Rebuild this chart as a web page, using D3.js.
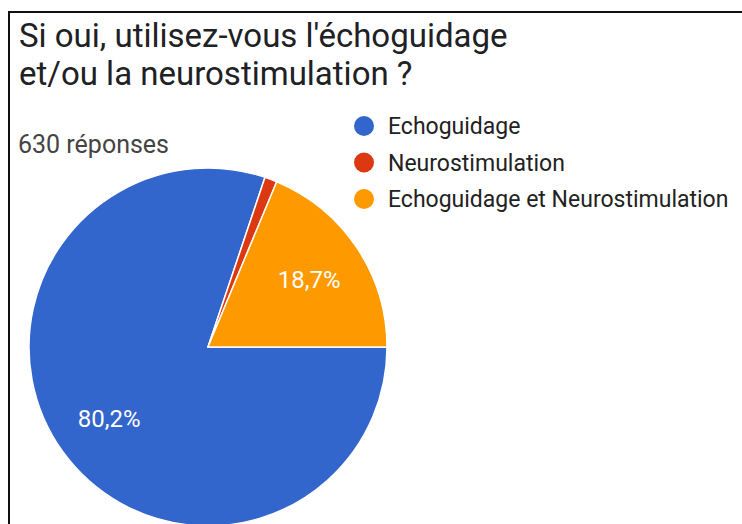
<!DOCTYPE html>
<html>
<head>
<meta charset="utf-8">
<script src="https://cdn.jsdelivr.net/npm/d3@7"></script>
<style>
  body { margin: 0; background: #fff; }
  svg { display: block; }
</style>
</head>
<body>
<div id="chart"></div>
<script>
var categories = ["Echoguidage", "Neurostimulation", "Echoguidage et Neurostimulation"];
var counts = [505, 7, 118];
var colours = ["#3366cc", "#dc3912", "#ff9900"];
var titleLines = ["Si oui, utilisez-vous l'échoguidage", "et/ou la neurostimulation ?"];
var responses = "630 réponses";

var width = 742, height = 524;
var cx = 208, cy = 347, radius = 179;

var svg = d3.select("#chart").append("svg")
    .attr("width", width)
    .attr("height", height);

// frame of the screenshot
svg.append("path")
    .attr("d", "M9," + (height + 5) + " L9,12 L" + (width + 5) + ",12")
    .attr("fill", "none")
    .attr("stroke", "#111")
    .attr("stroke-width", 2);

svg.selectAll(".title")
    .data(titleLines)
    .enter()
    .append("text")
    .attr("class", "title")
    .attr("x", 19)
    .attr("y", function(d, i) { return 47 + i * 38; })
    .style("font-family", "Roboto, sans-serif")
    .style("font-size", "33px")
    .style("fill", "#202124")
    .text(function(d) { return d; });

svg.append("text")
    .attr("x", 18)
    .attr("y", 153)
    .style("font-family", "Roboto, sans-serif")
    .style("font-size", "25px")
    .style("fill", "#444")
    .text(responses);

var total = d3.sum(counts);
var pie = d3.pie()
    .sort(null)
    .startAngle(Math.PI / 2)
    .endAngle(Math.PI / 2 + 2 * Math.PI);

var arcs = pie(counts);

var arc = d3.arc()
    .innerRadius(0)
    .outerRadius(radius);

var g = svg.append("g")
    .attr("transform", "translate(" + cx + "," + cy + ")");

g.selectAll("path")
    .data(arcs)
    .enter()
    .append("path")
    .attr("d", arc)
    .style("fill", function(d, i) { return colours[i]; })
    .style("stroke", "#fff")
    .style("stroke-width", 1.5);

var labelArc = d3.arc()
    .innerRadius(radius * 0.68)
    .outerRadius(radius * 0.68);

g.selectAll(".pct")
    .data(arcs.filter(function(d) { return d.value / total > 0.05; }))
    .enter()
    .append("text")
    .attr("class", "pct")
    .attr("transform", function(d) { return "translate(" + labelArc.centroid(d) + ")"; })
    .attr("text-anchor", "middle")
    .attr("dy", "0.36em")
    .style("font-family", "Roboto, sans-serif")
    .style("font-size", "24px")
    .style("fill", "#fff")
    .text(function(d) {
        return (d.value / total * 100).toFixed(1).replace(".", ",") + "%";
    });

var legend = svg.selectAll(".legend")
    .data(categories)
    .enter()
    .append("g")
    .attr("class", "legend")
    .attr("transform", function(d, i) { return "translate(364," + (126 + i * 36.5) + ")"; });

legend.append("circle")
    .attr("r", 10)
    .style("fill", function(d, i) { return colours[i]; });

legend.append("text")
    .attr("x", 24)
    .attr("dy", "0.35em")
    .style("font-family", "Roboto, sans-serif")
    .style("font-size", "23px")
    .style("fill", "#222")
    .text(function(d) { return d; });
</script>
</body>
</html>
